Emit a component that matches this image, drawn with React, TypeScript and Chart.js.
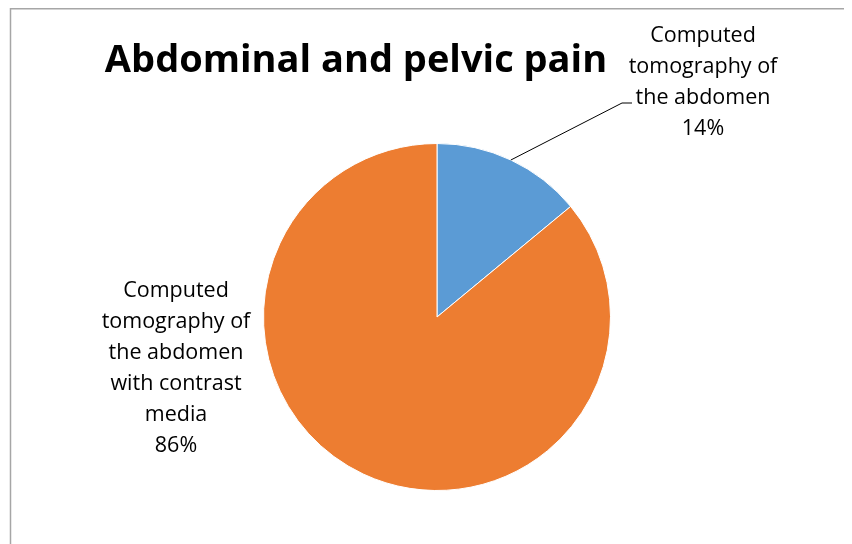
import React, { useEffect, useRef } from "react";
import { Chart, registerables } from "chart.js";

Chart.register(...registerables);

const TITLE = "Abdominal and pelvic pain";
const categories = [
  "Computed tomography of the abdomen",
  "Computed tomography of the abdomen with contrast media",
];
const values = [14, 86];
const colors = ["#5B9BD5", "#ED7D31"];
const labelLines = [
  ["Computed", "tomography of", "the abdomen", "14%"],
  ["Computed", "tomography of", "the abdomen", "with contrast", "media", "86%"],
];

const FONT = "'Open Sans', 'Noto Sans', sans-serif";

const overlay = {
  id: "overlay",
  afterDraw(chart: any) {
    const ctx = chart.ctx as CanvasRenderingContext2D;
    const meta = chart.getDatasetMeta(0);
    const arc0 = meta.data[0] as any;
    const cx = arc0.x;
    const cy = arc0.y;
    const r = arc0.outerRadius;
    ctx.save();
    // frame
    ctx.strokeStyle = "#A6A6A6";
    ctx.lineWidth = 1.5;
    ctx.beginPath();
    ctx.moveTo(2.5, chart.height + 2);
    ctx.lineTo(2.5, 0.75);
    ctx.lineTo(chart.width + 2, 0.75);
    ctx.stroke();

    // title
    ctx.fillStyle = "#000";
    ctx.font = `bold 38px ${FONT}`;
    ctx.textAlign = "center";
    ctx.textBaseline = "middle";
    ctx.fillText(TITLE, cx - 81, cy - 256);

    // labels
    ctx.font = `21.5px ${FONT}`;
    const lh = 31;
    const anchors = [
      { x: cx + 266, y: cy - 235 },
      { x: cx - 261, y: cy + 51 },
    ];
    labelLines.forEach((lines, i) => {
      const a = anchors[i];
      const top = a.y - ((lines.length - 1) * lh) / 2;
      lines.forEach((t, j) => ctx.fillText(t, a.x, top + j * lh));
    });

    // leader line for first slice
    const mid = (arc0.startAngle + arc0.endAngle) / 2;
    const sx = cx + Math.cos(mid) * r;
    const sy = cy + Math.sin(mid) * r;
    ctx.strokeStyle = "#000";
    ctx.lineWidth = 1;
    ctx.beginPath();
    ctx.moveTo(sx, sy);
    ctx.lineTo(cx + 185, cy - 214);
    ctx.lineTo(cx + 195, cy - 214);
    ctx.stroke();
    ctx.restore();
  },
};

export default function App() {
  const ref = useRef<HTMLCanvasElement>(null);
  useEffect(() => {
    if (!ref.current) return;
    const chart = new Chart(ref.current, {
      type: "pie",
      data: {
        labels: categories,
        datasets: [
          {
            data: values,
            backgroundColor: colors,
            borderColor: "#FFFFFF",
            borderWidth: 1,
          },
        ],
      },
      options: {
        animation: false,
        responsive: false,
        layout: { padding: { left: 255, right: 241, top: 135, bottom: 53 } },
        plugins: {
          legend: { display: false },
          title: { display: false },
          tooltip: { enabled: false },
        },
      },
      plugins: [overlay],
    });
    return () => chart.destroy();
  }, []);
  return (
    <div style={{ width: 844, height: 536 }}>
      <canvas ref={ref} width={844} height={536} style={{ display: "block" }} />
    </div>
  );
}
